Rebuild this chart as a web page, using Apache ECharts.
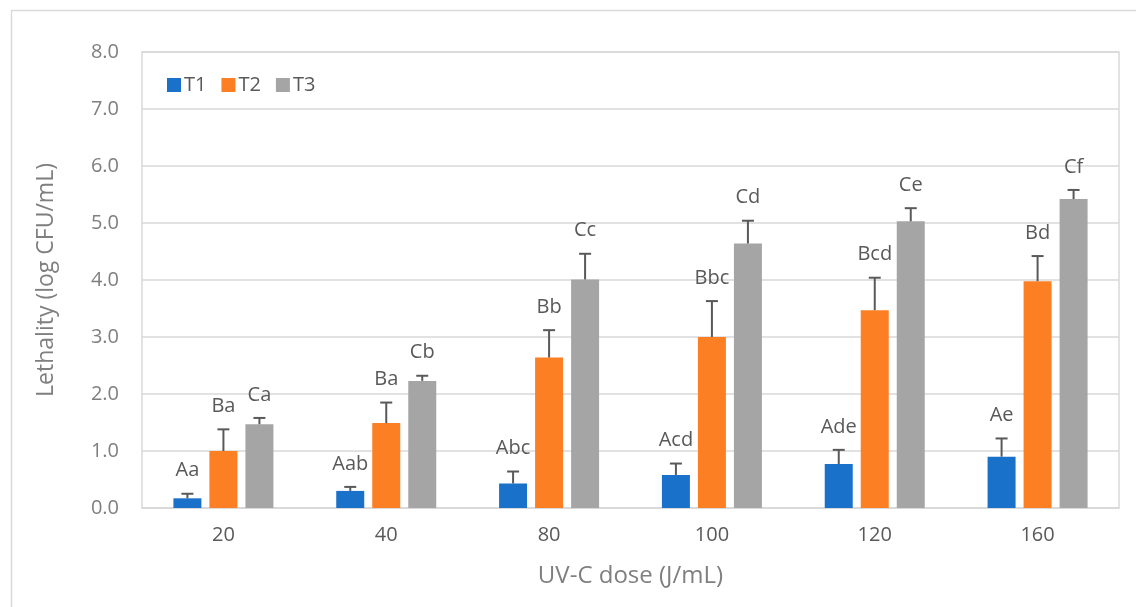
<!DOCTYPE html>
<html>
<head>
<meta charset="utf-8">
<script src="https://cdn.jsdelivr.net/npm/echarts@6/dist/echarts.min.js"></script>
<style>html,body{margin:0;padding:0;background:#fff}#c{width:1136px;height:607px}</style>
</head>
<body>
<div id="c"></div>
<script>
var categories = ['20', '40', '80', '100', '120', '160'];
var seriesNames = ['T1', 'T2', 'T3'];
var t1 = [0.17, 0.30, 0.43, 0.58, 0.77, 0.90];
var t1Err = [0.08, 0.07, 0.21, 0.20, 0.25, 0.32];
var t1Letters = ['Aa', 'Aab', 'Abc', 'Acd', 'Ade', 'Ae'];
var t2 = [1.00, 1.49, 2.64, 3.00, 3.47, 3.98];
var t2Err = [0.38, 0.36, 0.48, 0.63, 0.57, 0.44];
var t2Letters = ['Ba', 'Ba', 'Bb', 'Bbc', 'Bcd', 'Bd'];
var t3 = [1.47, 2.23, 4.01, 4.64, 5.03, 5.42];
var t3Err = [0.11, 0.09, 0.45, 0.40, 0.23, 0.16];
var t3Letters = ['Ca', 'Cb', 'Cc', 'Cd', 'Ce', 'Cf'];
var yTicks = [0, 1, 2, 3, 4, 5, 6, 7, 8];

var colors = ['#1a71c9', '#fd7f23', '#a5a5a5'];
var FONT = 'Open Sans';
var BAR_W = 28, GAP = 8;

var values = [t1, t2, t3];
var errs = [t1Err, t2Err, t3Err];
var letters = [t1Letters, t2Letters, t3Letters];

function errSeries(si) {
  var data = categories.map(function (c, i) {
    return [i, values[si][i], values[si][i] + errs[si][i]];
  });
  return {
    type: 'custom',
    name: seriesNames[si] + ' err',
    z: 5,
    silent: true,
    data: data,
    encode: { x: 0, y: [1, 2] },
    renderItem: function (params, api) {
      var idx = api.value(0);
      var base = api.coord([idx, api.value(1)]);
      var top = api.coord([idx, api.value(2)]);
      var off = (si - 1) * (BAR_W + GAP);
      var x = base[0] + off;
      var cap = 6;
      return {
        type: 'group',
        children: [
          { type: 'line', shape: { x1: x, y1: base[1], x2: x, y2: top[1] }, style: { stroke: '#595959', lineWidth: 2 } },
          { type: 'line', shape: { x1: x - cap, y1: top[1], x2: x + cap, y2: top[1] }, style: { stroke: '#595959', lineWidth: 2 } },
          { type: 'text', x: x, y: top[1] - 23, style: { text: letters[si][params.dataIndex], fill: '#595959', font: '20px "' + FONT + '"', align: 'center', verticalAlign: 'middle' } }
        ]
      };
    }
  };
}

var chart = echarts.init(document.getElementById('c'), null, { renderer: 'canvas' });
var option = {
  animation: false,
  backgroundColor: '#ffffff',
  textStyle: { fontFamily: FONT },
  graphic: [
    { type: 'rect', left: 9, top: 8, shape: { x: 0, y: 0, width: 1300, height: 800 }, style: { fill: 'none', stroke: '#d9d9d9', lineWidth: 1.5 }, silent: true, z: -10 }
  ],
  legend: {
    data: seriesNames,
    left: 162, top: 70,
    itemWidth: 14, itemHeight: 14, itemGap: 15,
    icon: 'rect',
    textStyle: { color: '#595959', fontSize: 20, fontFamily: FONT, padding: [0, 0, 0, -2] }
  },
  grid: { left: 142, right: 17, top: 52, bottom: 99, show: true, borderColor: '#d9d9d9', borderWidth: 1.5 },
  xAxis: {
    type: 'category',
    data: categories,
    name: 'UV-C dose (J/mL)',
    nameLocation: 'middle',
    nameGap: 56,
    nameTextStyle: { color: '#7f7f7f', fontSize: 24, fontFamily: FONT },
    axisLine: { lineStyle: { color: '#d9d9d9', width: 1.5 } },
    axisTick: { show: false },
    axisLabel: { color: '#595959', fontSize: 20, margin: 17, fontFamily: FONT }
  },
  yAxis: {
    type: 'value',
    min: yTicks[0], max: yTicks[yTicks.length - 1], interval: 1,
    name: 'Lethality (log CFU/mL)',
    nameLocation: 'middle',
    nameGap: 84,
    nameTextStyle: { color: '#7f7f7f', fontSize: 23, fontFamily: FONT },
    axisLine: { show: false },
    axisTick: { show: false },
    splitLine: { lineStyle: { color: '#d9d9d9', width: 1.5 } },
    axisLabel: { color: '#7f7f7f', fontSize: 20, margin: 23, fontFamily: FONT, formatter: function (v) { return v.toFixed(1); } }
  },
  series: [
    { name: 'T1', type: 'bar', data: t1, barWidth: BAR_W, barGap: (GAP / BAR_W * 100).toFixed(1) + '%', itemStyle: { color: colors[0] } },
    { name: 'T2', type: 'bar', data: t2, barWidth: BAR_W, barGap: (GAP / BAR_W * 100).toFixed(1) + '%', itemStyle: { color: colors[1] } },
    { name: 'T3', type: 'bar', data: t3, barWidth: BAR_W, barGap: (GAP / BAR_W * 100).toFixed(1) + '%', itemStyle: { color: colors[2] } },
    errSeries(0), errSeries(1), errSeries(2)
  ]
};
chart.setOption(option);
</script>
</body>
</html>
